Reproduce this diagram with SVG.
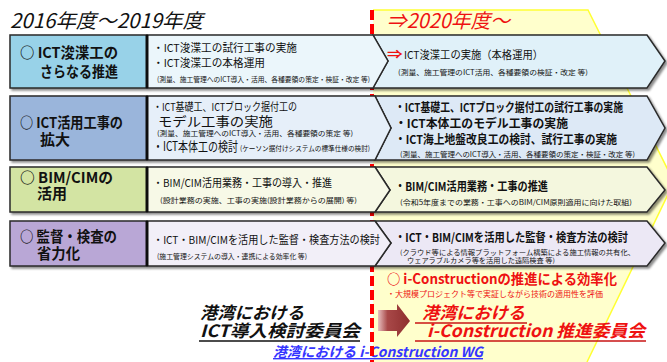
<svg xmlns="http://www.w3.org/2000/svg" width="667" height="362" viewBox="0 0 667 362">
<defs>
<filter id="sh" x="-5%" y="-10%" width="115%" height="130%">
<feDropShadow dx="2" dy="2" stdDeviation="1" flood-color="#000" flood-opacity="0.45"/>
</filter>
<linearGradient id="arr" x1="0" y1="0" x2="1" y2="0">
<stop offset="0" stop-color="#e8c0c0"/>
<stop offset="0.3" stop-color="#a84848"/>
<stop offset="1" stop-color="#8e2e2e"/>
</linearGradient>
</defs>
<style>
text{font-family:'Noto Sans CJK JP','Liberation Sans',sans-serif;fill:#111}
.lbl{font-size:14.5px;font-weight:bold}
.m{font-size:11px}
.mb{font-size:12px;font-weight:bold}
.s{font-size:7px}
.box{stroke:#2a2a2a;stroke-width:1.5}
.chev{stroke:#2a2a2a;stroke-width:1.5;stroke-linejoin:miter}
.red{fill:#ee1111}
.it{font-style:italic;font-weight:bold}
</style>
<rect width="667" height="362" fill="#fff"/>

<g id="period-2020">
<polygon points="373,10 588,10 674,182 587,362 373,362" fill="#ffffcc"/>
<polyline points="373,10 588,10 674,182 587,362" fill="none" stroke="#ffff33" stroke-width="1.5"/>
</g>

<g id="titles">
<text x="10" y="28" class="it" style="font-size:20px;font-weight:normal" textLength="193" lengthAdjust="spacingAndGlyphs">2016年度～2019年度</text>
<text x="387" y="28" class="it red" style="font-size:20px;font-weight:normal" textLength="123" lengthAdjust="spacingAndGlyphs">⇒2020年度～</text>
</g>

<g id="wg">
<text x="273" y="357" class="it" style="font-size:14px;fill:#3535ff;text-decoration:underline" textLength="210" lengthAdjust="spacingAndGlyphs">港湾における i-Construction WG</text>
</g>

<g id="divider">
<line x1="372" y1="10" x2="372" y2="362" stroke="#ff0000" stroke-width="4" stroke-dasharray="10 4"/>
</g>

<g id="row1" filter="url(#sh)">
<polygon class="chev" points="373,35 647,35 665,61 647,88 373,88 388,61" fill="#e0f1f9"/>
<polygon class="chev" points="147,35 373,35 388,61 373,88 147,88" fill="#ebf6fb"/>
<rect class="box" x="10" y="35" width="137" height="53" fill="#98d2e8"/>
<line x1="147" y1="35" x2="147" y2="88" stroke="#111" stroke-width="3"/>
</g>
<g id="row1-text">
<text x="20" y="58" class="lbl" textLength="98" lengthAdjust="spacingAndGlyphs">○ ICT浚渫工の</text>
<text x="40" y="77" class="lbl" textLength="78" lengthAdjust="spacingAndGlyphs">さらなる推進</text>
<text x="153" y="52" class="m" textLength="144" lengthAdjust="spacingAndGlyphs">・ICT浚渫工の試行工事の実施</text>
<text x="153" y="67" class="m" textLength="112" lengthAdjust="spacingAndGlyphs">・ICT浚渫工の本格運用</text>
<text x="157" y="82" class="s" textLength="213" lengthAdjust="spacingAndGlyphs">(測量、施工管理へのICT導入・活用、各種要領の策定・検証・改定 等)</text>
<text x="387" y="59" class="red" style="font-size:12px;font-weight:bold" textLength="16" lengthAdjust="spacingAndGlyphs">⇒</text>
<text x="404" y="59" class="m" textLength="139" lengthAdjust="spacingAndGlyphs">ICT浚渫工の実施（本格運用）</text>
<text x="398" y="75" class="s" textLength="190" lengthAdjust="spacingAndGlyphs">(測量、施工管理のICT活用、各種要領の検証・改定 等)</text>
</g>

<g id="row2" filter="url(#sh)">
<polygon class="chev" points="375,96 647,96 665,128 647,160 375,160 391,128" fill="#dde9f6"/>
<polygon class="chev" points="147,96 375,96 391,128 375,160 147,160" fill="#e6eff9"/>
<rect class="box" x="10" y="96" width="137" height="64" fill="#9ab5db"/>
<line x1="147" y1="96" x2="147" y2="160" stroke="#111" stroke-width="3"/>
</g>
<g id="row2-text">
<text x="20" y="128" class="lbl" textLength="103" lengthAdjust="spacingAndGlyphs">○ ICT活用工事の</text>
<text x="40" y="145" class="lbl" textLength="30" lengthAdjust="spacingAndGlyphs">拡大</text>
<text x="153" y="111" class="m" textLength="144" lengthAdjust="spacingAndGlyphs">・ICT基礎工、ICTブロック据付工の</text>
<text x="158" y="126" style="font-size:13px" textLength="115" lengthAdjust="spacingAndGlyphs">モデル工事の実施</text>
<text x="157" y="136" class="s" textLength="196" lengthAdjust="spacingAndGlyphs">(測量、施工管理へのICT導入・活用、各種要領の策定 等)</text>
<text x="153" y="151" style="font-size:13px" textLength="85" lengthAdjust="spacingAndGlyphs">・ICT本体工の検討</text>
<text x="240" y="151" class="s" textLength="130" lengthAdjust="spacingAndGlyphs">(ケーソン据付けシステムの標準仕様の検討)</text>
<text x="395" y="112" class="mb" textLength="228" lengthAdjust="spacingAndGlyphs">・ICT基礎工、ICTブロック据付工の試行工事の実施</text>
<text x="395" y="128" class="mb" textLength="173" lengthAdjust="spacingAndGlyphs">・ICT本体工のモデル工事の実施</text>
<text x="395" y="144" class="mb" textLength="222" lengthAdjust="spacingAndGlyphs">・ICT海上地盤改良工の検討、試行工事の実施</text>
<text x="400" y="157" class="s" textLength="235" lengthAdjust="spacingAndGlyphs">(測量、施工管理へのICT導入・活用、各種要領の策定・検証・改定 等)</text>
</g>

<g id="row3" filter="url(#sh)">
<polygon class="chev" points="375,167 647,167 665,190 647,212 375,212 390,190" fill="#f4f7de"/>
<polygon class="chev" points="147,167 375,167 390,190 375,212 147,212" fill="#f7f9e7"/>
<rect class="box" x="10" y="167" width="137" height="45" fill="#d3e4a3"/>
<line x1="147" y1="167" x2="147" y2="212" stroke="#111" stroke-width="3"/>
</g>
<g id="row3-text">
<text x="20" y="183" class="lbl" textLength="93" lengthAdjust="spacingAndGlyphs">○ BIM/CIMの</text>
<text x="37" y="199" class="lbl" textLength="30" lengthAdjust="spacingAndGlyphs">活用</text>
<text x="153" y="187" class="m" textLength="179" lengthAdjust="spacingAndGlyphs">・BIM/CIM活用業務・工事の導入・推進</text>
<text x="160" y="203" class="s" textLength="197" lengthAdjust="spacingAndGlyphs">(設計業務の実施、工事の実施(設計業務からの展開) 等)</text>
<text x="395" y="191" class="mb" textLength="153" lengthAdjust="spacingAndGlyphs">・BIM/CIM活用業務・工事の推進</text>
<text x="400" y="205" class="s" textLength="232" lengthAdjust="spacingAndGlyphs">(令和5年度までの業務・工事へのBIM/CIM原則適用に向けた取組)</text>
</g>

<g id="row4" filter="url(#sh)">
<polygon class="chev" points="375,221 647,221 665,243 647,266 375,266 391,243" fill="#ece8f5"/>
<polygon class="chev" points="147,221 375,221 391,243 375,266 147,266" fill="#f2eff8"/>
<rect class="box" x="10" y="221" width="137" height="45" fill="#b9a7d6"/>
<line x1="147" y1="221" x2="147" y2="266" stroke="#111" stroke-width="3"/>
</g>
<g id="row4-text">
<text x="20" y="242" class="lbl" textLength="97" lengthAdjust="spacingAndGlyphs">○ 監督・検査の</text>
<text x="37" y="259" class="lbl" textLength="43" lengthAdjust="spacingAndGlyphs">省力化</text>
<text x="153" y="244" class="m" textLength="227" lengthAdjust="spacingAndGlyphs">・ICT・BIM/CIMを活用した監督・検査方法の検討</text>
<text x="157" y="259" class="s" textLength="150" lengthAdjust="spacingAndGlyphs">(施工管理システムの導入・連携による効率化 等)</text>
<text x="395" y="242" class="mb" textLength="233" lengthAdjust="spacingAndGlyphs">・ICT・BIM/CIMを活用した監督・検査方法の検討</text>
<text x="400" y="255" style="font-size:6.5px" textLength="235" lengthAdjust="spacingAndGlyphs">(クラウド等による情報プラットフォーム構築による施工情報の共有化、</text>
<text x="407" y="263" style="font-size:6.5px" textLength="148" lengthAdjust="spacingAndGlyphs">ウェアラブルカメラ等を活用した遠隔検査 等)</text>
</g>

<g id="efficiency">
<text x="387" y="284" class="red" style="font-size:14px;font-weight:bold" textLength="230" lengthAdjust="spacingAndGlyphs">○ i-Constructionの推進による効率化</text>
<text x="387" y="297" class="red" style="font-size:8px" textLength="216" lengthAdjust="spacingAndGlyphs">・大規模プロジェクト等で実証しながら技術の適用性を評価</text>
</g>

<g id="ict-committee">
<text x="200" y="319" class="it" style="font-size:17px" textLength="104" lengthAdjust="spacingAndGlyphs">港湾における</text>
<text x="200" y="337" class="it" style="font-size:17px" textLength="160" lengthAdjust="spacingAndGlyphs">ICT導入検討委員会</text>
<line x1="199" y1="341" x2="360" y2="341" stroke="#111" stroke-width="1.5"/>
</g>

<g id="transition-arrow">
<polygon points="378,310 397,310 397,304 410,321 397,337 397,331 378,331" fill="url(#arr)"/>
</g>

<g id="ic-committee">
<text x="422" y="319" class="it red" style="font-size:17px" textLength="103" lengthAdjust="spacingAndGlyphs">港湾における</text>
<line x1="415" y1="323" x2="527" y2="323" stroke="#c81414" stroke-width="1.5"/>
<text x="427" y="337" class="it red" style="font-size:17px" textLength="218" lengthAdjust="spacingAndGlyphs">i-Construction 推進委員会</text>
<line x1="415" y1="341" x2="646" y2="341" stroke="#c81414" stroke-width="1.5"/>
</g>
</svg>
